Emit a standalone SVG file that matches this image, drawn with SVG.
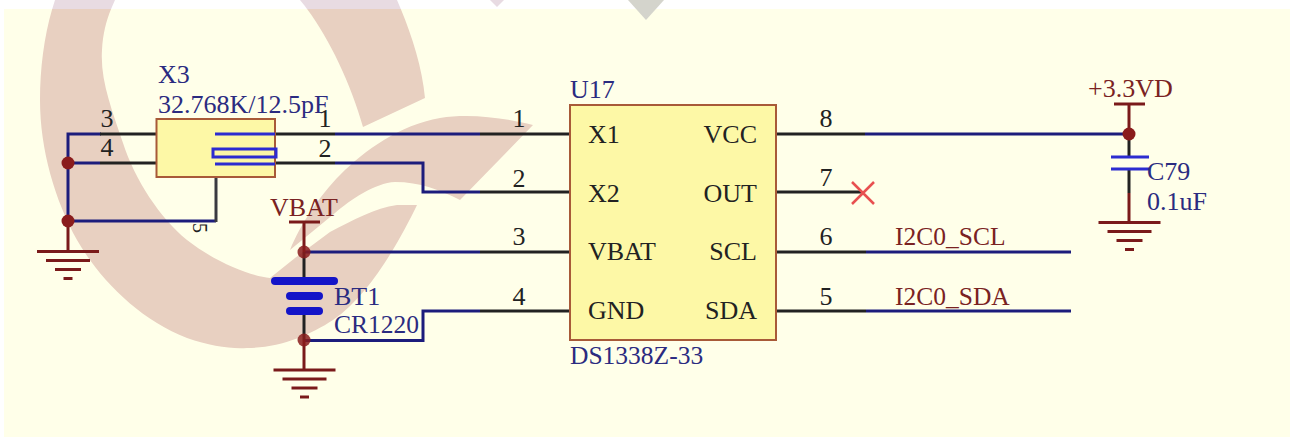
<svg xmlns="http://www.w3.org/2000/svg" xmlns:xlink="http://www.w3.org/1999/xlink" width="1290" height="439" viewBox="0 0 1290 439">
<style>
text{font-family:"Liberation Serif","Times New Roman",serif;font-size:26px}
.nv{fill:#2b2b80}.dk{fill:#222}.rd{fill:#7a2222}
.e{text-anchor:end}.m{text-anchor:middle}
.lb{font-size:25.500px}
line,path.w{fill:none;stroke-linecap:butt}
.wn{stroke:#1c1c7c;stroke-width:3}
.wk{stroke:#222;stroke-width:3}
.wg{stroke:#3a3a40;stroke-width:3}
.wr{stroke:#7a1a1a;stroke-width:3}
.sb{stroke:#2c2cd0;stroke-width:3;fill:none}
.bt{stroke:#1414c8;stroke-width:8;stroke-linecap:round}
.body{fill:#fdf8a6;stroke:#a85a38;stroke-width:2}
.j{fill:#8a1c1c}
</style>
<defs>
<g id="wm">
<path d="M55,0C45,30 40,65 40,100C40,150 55,200 77,240C100,280 140,320 187,338C210,346 230,349 247,348C280,348 310,335 333,320C370,295 400,240 417,205L397,205C375,208 353,220 330,232L295,258L270,278C250,276 215,262 187,240C160,218 135,180 123,143C112,110 100,80 102,50C103,30 108,15 115,0Z"/>
<path d="M290,250C300,225 320,195 340,175C365,150 400,125 440,118C470,113 505,118 533,125L460,200C440,190 420,182 395,182C375,183 350,200 335,213C320,225 305,238 290,250Z"/>
<path d="M300,0C325,30 350,80 363,127L425,98C422,65 410,30 397,0Z"/>
<path d="M490,0L504,0L497,7Z"/>
</g>
<g id="gnd">
<line class="wr" x1="-31" y1="0" x2="31" y2="0"/>
<line class="wr" x1="-22" y1="9" x2="22" y2="9"/>
<line class="wr" x1="-13" y1="18" x2="13" y2="18"/>
<line class="wr" x1="-4.500" y1="27" x2="4.500" y2="27"/>
</g>
</defs>
<rect width="1290" height="439" fill="#fff"/>
<use href="#wm" fill="#e8dbe2"/>
<path d="M628,0L664,0L646,20Z" fill="#d4d4cc"/>
<g id="page">
<rect x="4" y="9" width="1286" height="428" fill="#ffffe9"/>
<clipPath id="pc"><rect x="4" y="9" width="1286" height="428"/></clipPath>
<g clip-path="url(#pc)">
<use href="#wm" fill="#e8d0c1"/>
<path d="M628,0L664,0L646,20Z" fill="#d4d4cc"/>
</g>
</g>
<g id="connectors">
<path class="w wn" d="M101,134H68V221H216"/>
<line class="wk" x1="100" y1="134" x2="157" y2="134"/>
<line class="wn" x1="68" y1="163" x2="100" y2="163"/>
<line class="wk" x1="100" y1="163" x2="157" y2="163"/>
<line class="wg" x1="216" y1="177" x2="216" y2="222"/>
<line class="wr" x1="68" y1="221" x2="68" y2="251"/>
<line class="wk" x1="275" y1="134" x2="335" y2="134"/>
<line class="wn" x1="335" y1="134" x2="480" y2="134"/>
<line class="wk" x1="480" y1="134" x2="570" y2="134"/>
<line class="wk" x1="275" y1="163" x2="335" y2="163"/>
<path class="w wn" d="M335,163H423V192H480"/>
<line class="wk" x1="480" y1="192" x2="570" y2="192"/>
<line class="wn" x1="304" y1="252" x2="480" y2="252"/>
<line class="wk" x1="480" y1="252" x2="570" y2="252"/>
<path class="w wn" d="M304,340.500H423V311H480"/>
<line class="wk" x1="480" y1="311" x2="570" y2="311"/>
<line class="wr" x1="304" y1="222" x2="304" y2="252"/>
<line class="wk" x1="304" y1="252" x2="304" y2="281"/>
<line class="wk" x1="304" y1="311" x2="304" y2="340"/>
<line class="wr" x1="304" y1="340" x2="304" y2="370"/>
<line class="wk" x1="776" y1="134" x2="865" y2="134"/>
<line class="wn" x1="865" y1="134" x2="1129" y2="134"/>
<line class="wk" x1="776" y1="192" x2="862" y2="192"/>
<line class="wk" x1="776" y1="252" x2="866" y2="252"/>
<line class="wn" x1="866" y1="252" x2="1071" y2="252"/>
<line class="wk" x1="776" y1="311" x2="866" y2="311"/>
<line class="wn" x1="866" y1="311" x2="1071" y2="311"/>
<line class="wr" x1="1129" y1="104" x2="1129" y2="134"/>
<line class="wk" x1="1129" y1="134" x2="1129" y2="157"/>
<line class="wk" x1="1129" y1="169" x2="1129" y2="193"/>
<line class="wr" x1="1129" y1="193" x2="1129" y2="223"/>
</g>
<g id="X3">
<rect class="body" x="156.500" y="119" width="118.500" height="58"/>
<line class="sb" x1="215" y1="134" x2="275" y2="134"/>
<rect class="sb" x="213" y="149" width="63" height="8"/>
<line class="sb" x1="215" y1="164" x2="275" y2="164"/>
<text class="nv" x="158" y="83">X3</text>
<text class="nv" x="158" y="113">32.768K/12.5pF</text>
<text class="dk m" x="107" y="127">3</text>
<text class="dk m" x="107" y="156">4</text>
<text class="dk m" x="325" y="127">1</text>
<text class="dk m" x="325" y="157">2</text>
<text class="dk" transform="translate(193,228) rotate(90)" text-anchor="middle" style="font-size:20px">5</text>
<circle class="j" cx="68" cy="163" r="6.500"/>
<circle class="j" cx="68" cy="221" r="6.500"/>
<use href="#gnd" x="68" y="251.500"/>
</g>
<g id="BT1">
<text class="rd" x="304" y="216" text-anchor="middle">VBAT</text>
<line class="wr" x1="289" y1="222" x2="320" y2="222"/>
<circle class="j" cx="304" cy="252" r="6.500" fill-opacity=".85"/>
<line class="bt" x1="275" y1="281" x2="334" y2="281"/>
<line class="bt" x1="290" y1="296" x2="319" y2="296"/>
<line class="bt" x1="290" y1="311" x2="319" y2="311"/>
<text class="nv" x="334" y="305">BT1</text>
<text class="nv lb" x="334" y="333">CR1220</text>
<circle class="j" cx="304" cy="340" r="6.500" fill-opacity=".85"/>
<use href="#gnd" x="304.500" y="370"/>
</g>
<g id="U17">
<rect class="body" x="570" y="105" width="206" height="235"/>
<text class="nv" x="570" y="98">U17</text>
<text class="nv lb" x="570" y="364">DS1338Z-33</text>
<text class="dk" x="588" y="143">X1</text>
<text class="dk" x="588" y="202">X2</text>
<text class="dk" x="588" y="260">VBAT</text>
<text class="dk" x="588" y="319">GND</text>
<text class="dk e" x="757" y="143">VCC</text>
<text class="dk e" x="757" y="202">OUT</text>
<text class="dk e" x="757" y="260">SCL</text>
<text class="dk e" x="757" y="319">SDA</text>
<text class="dk m" x="519" y="127">1</text>
<text class="dk m" x="519" y="187">2</text>
<text class="dk m" x="519" y="245">3</text>
<text class="dk m" x="519" y="305">4</text>
<text class="dk m" x="826" y="127">8</text>
<text class="dk m" x="826" y="186">7</text>
<text class="dk m" x="826" y="245">6</text>
<text class="dk m" x="826" y="305">5</text>
</g>
<g id="NC">
<path d="M852,182L874,204M874,182L852,204" fill="none" stroke="#e85050" stroke-width="2.500"/>
</g>
<g id="I2C0_SCL"><text class="rd lb" x="895" y="245">I2C0_SCL</text></g>
<g id="I2C0_SDA"><text class="rd lb" x="895" y="305">I2C0_SDA</text></g>
<g id="C79">
<text class="rd" x="1088" y="97">+3.3VD</text>
<line class="wr" x1="1114" y1="104" x2="1145" y2="104"/>
<circle class="j" cx="1129" cy="134" r="6.500"/>
<line class="sb" x1="1111" y1="157" x2="1149" y2="157"/>
<line class="sb" x1="1111" y1="169" x2="1149" y2="169"/>
<text class="nv" x="1147" y="180">C79</text>
<text class="nv" x="1147" y="210">0.1uF</text>
<use href="#gnd" x="1129.500" y="222.500"/>
</g>
</svg>
